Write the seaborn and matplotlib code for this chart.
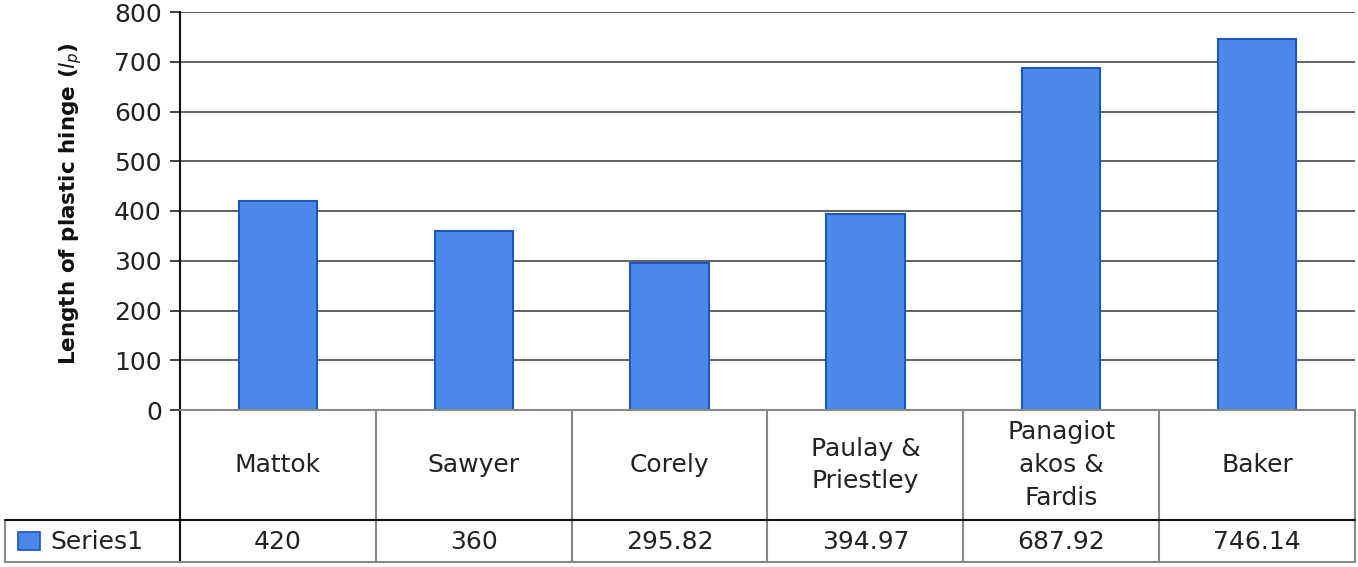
import matplotlib
matplotlib.use("Agg")
import matplotlib.pyplot as plt
import seaborn as sns
import pandas as pd
from matplotlib.patches import Rectangle

categories = ["Mattok", "Sawyer", "Corely", "Paulay & Priestley", "Panagiotakos & Fardis", "Baker"]
table_labels = ["Mattok", "Sawyer", "Corely", "Paulay &\nPriestley", "Panagiot\nakos &\nFardis", "Baker"]
values = [420, 360, 295.82, 394.97, 687.92, 746.14]
series_name = "Series1"
yticks = [0, 100, 200, 300, 400, 500, 600, 700, 800]
ylabel = r"Length of plastic hinge ($l_p$)"

sns.set_theme(style="white")
plt.rcParams["font.family"] = ["DejaVu Sans"]
FS = 18

W, H = 1358, 567
fig = plt.figure(figsize=(W / 100, H / 100), dpi=100)
fig.patch.set_facecolor("white")

x0, x1 = 180, 1355
ytop, ybot = 12, 410
ax = fig.add_axes([x0 / W, 1 - ybot / H, (x1 - x0) / W, (ybot - ytop) / H])

df = pd.DataFrame({"cat": categories, "val": values})
bar_color = "#4a89e8"
edge_color = "#1d57c2"
sns.barplot(data=df, x="cat", y="val", color=bar_color, edgecolor=edge_color,
            linewidth=1.5, width=0.4, saturation=1, ax=ax, zorder=3)
ax.set_xlim(-0.5, len(categories) - 0.5)
ax.set_ylim(0, 800)
ax.set_yticks(yticks)
ax.set_yticklabels([str(t) for t in yticks], fontsize=FS, color="#222222")
ax.set_xticks([])
ax.set_xlabel("")
ax.set_ylabel(ylabel, fontsize=15.5, fontweight="bold", color="#111111")
ax.yaxis.set_label_coords(-(180 - 84) / (x1 - x0), 0.52)
for t in yticks:
    ax.axhline(t, color="#555555", lw=1.3, zorder=1)
for s in ["top", "right", "bottom"]:
    ax.spines[s].set_visible(False)
ax.spines["left"].set_color("#111111")
ax.spines["left"].set_linewidth(1.5)
ax.tick_params(axis="y", direction="out", length=7, width=1.3, color="#333333", pad=6, left=True)

# data table
tb_bot = 562
tax = fig.add_axes([x0 / W, 1 - tb_bot / H, (x1 - x0) / W, (tb_bot - ybot) / H])
tax.set_xlim(-0.5, len(categories) - 0.5)
tax.set_ylim(tb_bot - ybot, 0)
tax.axis("off")
row1 = 520 - ybot
row2 = tb_bot - ybot
cw = (x1 - x0) / len(categories)
left_ext = -0.5 - (x0 - 5) / cw
n = len(categories)
grey = "#888888"
for i in range(1, n + 1):
    tax.plot([i - 0.5, i - 0.5], [0, row2], color=grey, lw=1.5, clip_on=False)
tax.plot([-0.5, -0.5], [0, row2], color="#111111", lw=1.5, clip_on=False)
tax.plot([left_ext, left_ext], [row1, row2], color=grey, lw=1.5, clip_on=False)
tax.plot([-0.5, n - 0.5], [0, 0], color=grey, lw=1.5, clip_on=False)
tax.plot([left_ext, n - 0.5], [row1, row1], color="#111111", lw=1.5, clip_on=False)
tax.plot([left_ext, n - 0.5], [row2, row2], color=grey, lw=1.5, clip_on=False)

for i, (lab, v) in enumerate(zip(table_labels, values)):
    tax.text(i, row1 / 2, lab, ha="center", va="center", fontsize=FS,
             color="#222222", linespacing=1.45)
    tax.text(i, (row1 + row2) / 2 + 1, f"{v:g}", ha="center", va="center",
             fontsize=FS, color="#222222")

sw_x = left_ext + 13 / cw
tax.add_patch(Rectangle((sw_x, row1 + 12), 22 / cw, 18, facecolor=bar_color,
                        edgecolor=edge_color, lw=1.2, clip_on=False))
tax.text(sw_x + 32 / cw, (row1 + row2) / 2 + 1, series_name, ha="left", va="center",
         fontsize=FS, color="#222222")

fig.savefig("out.png", dpi=100, facecolor="white")
